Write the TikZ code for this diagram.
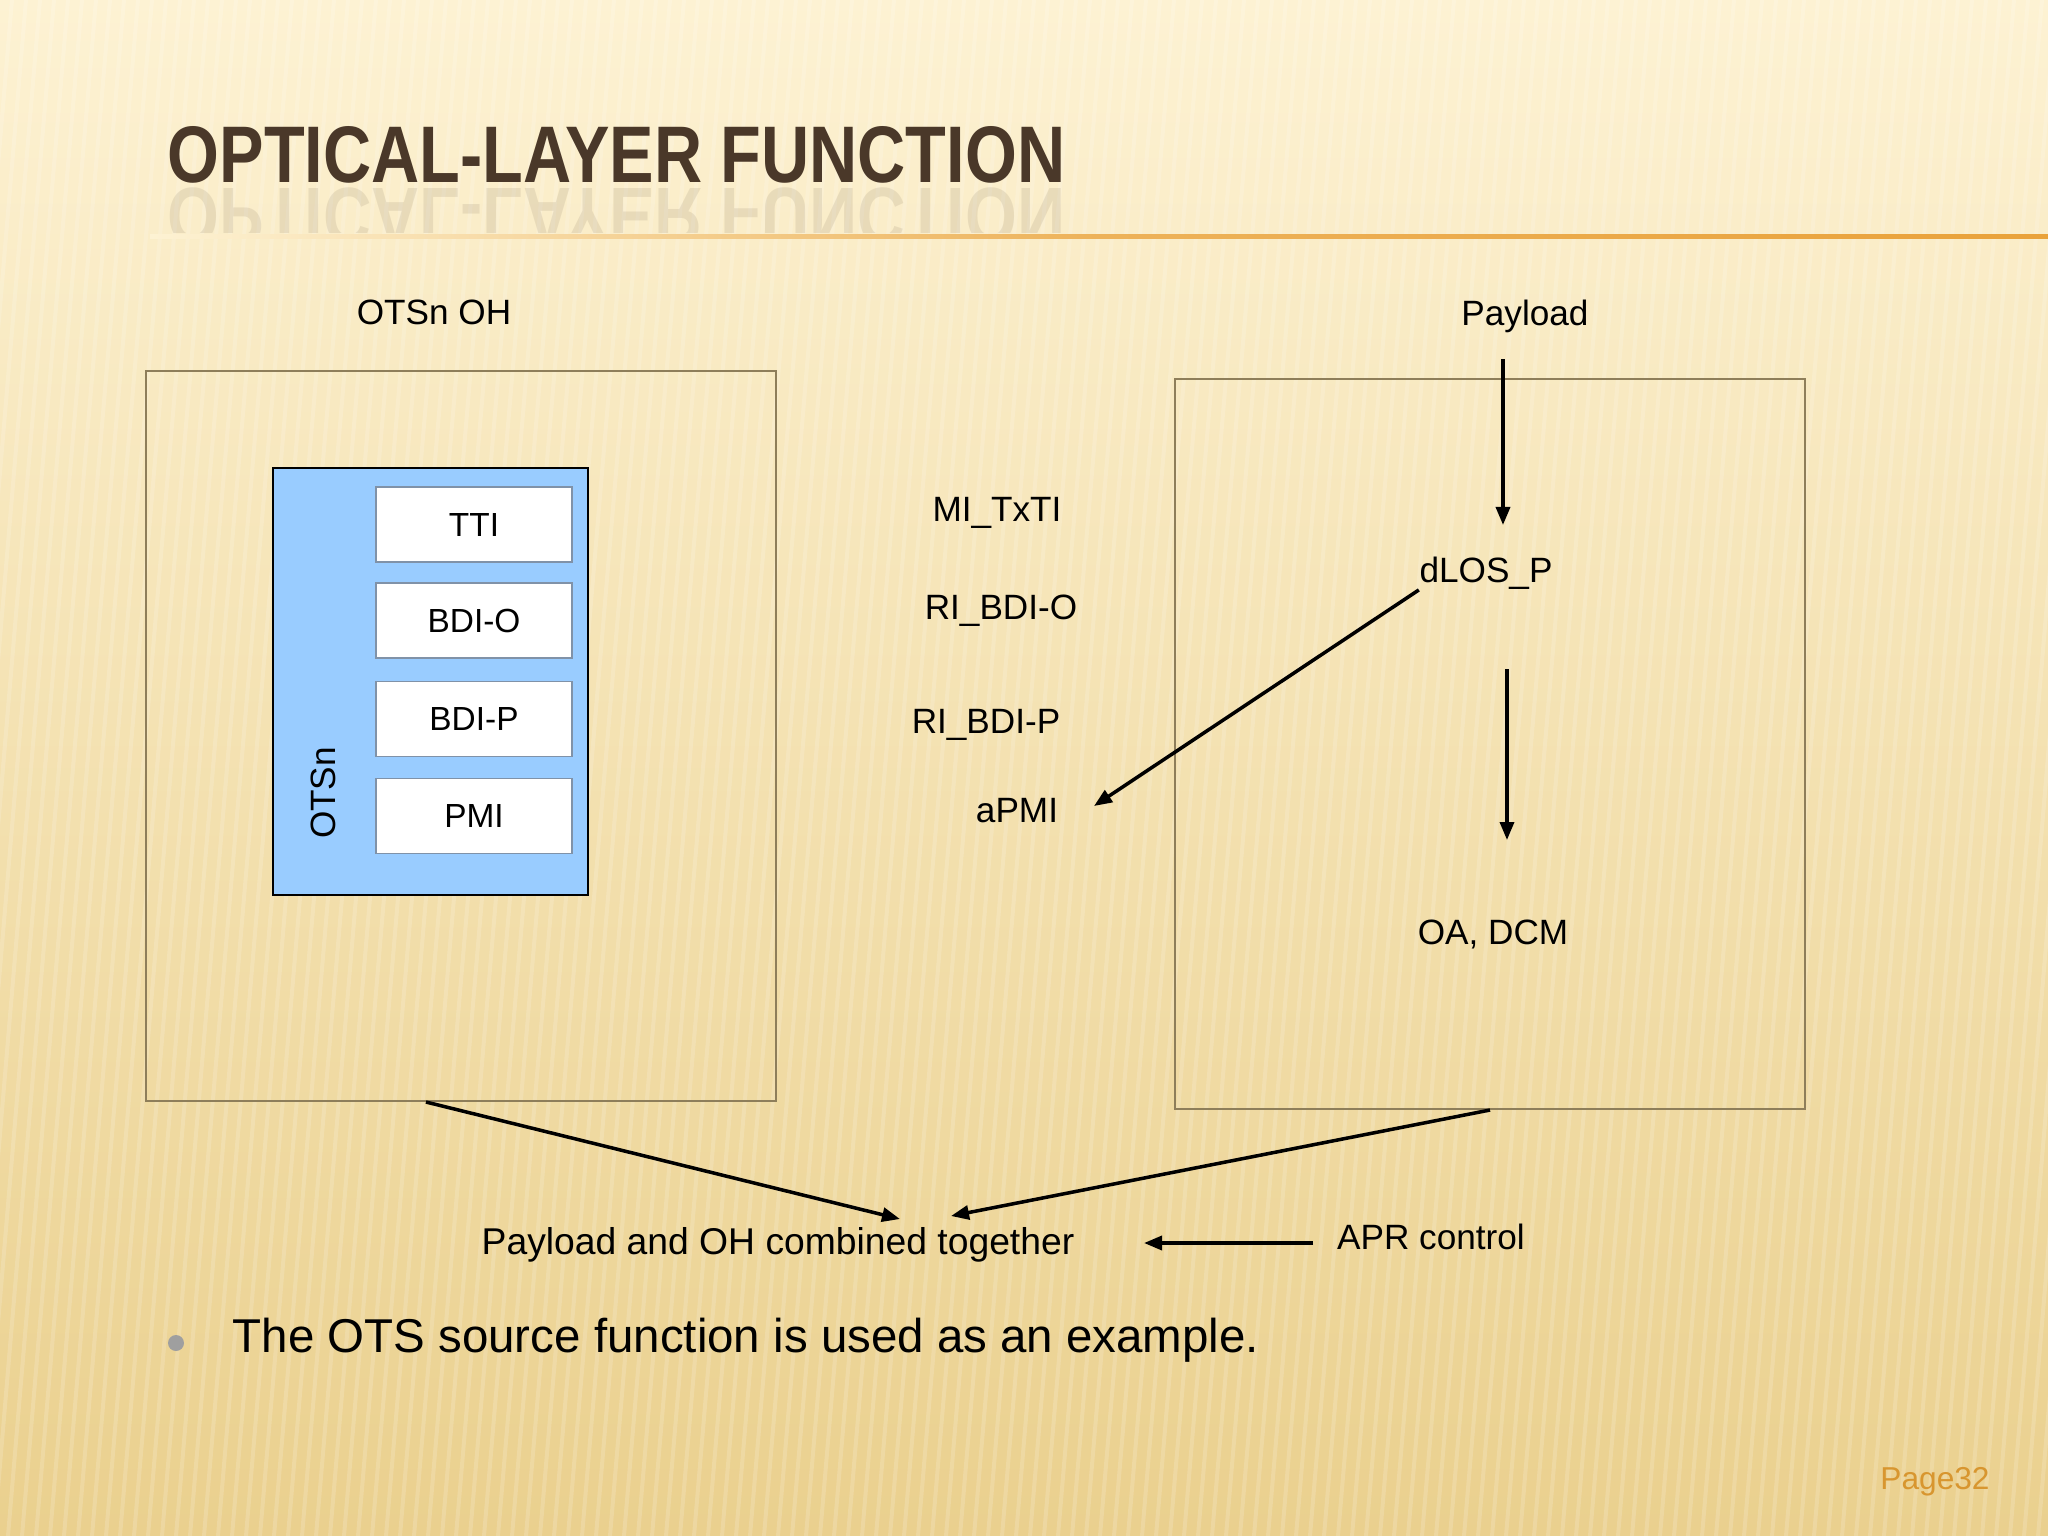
\documentclass[tikz,border=0pt]{standalone}
\usepackage{fontspec}
\setmainfont{Liberation Sans}
\usepackage{graphicx}
\usetikzlibrary{arrows.meta}

\definecolor{titlebrown}{HTML}{4A3829}
\definecolor{rulecol}{HTML}{E9A23B}
\definecolor{boxline}{HTML}{8E7E5A}
\definecolor{fieldline}{HTML}{8092A8}
\definecolor{otsblue}{HTML}{99CCFF}
\definecolor{pagenum}{HTML}{D8962F}
\definecolor{bgtop}{HTML}{FDF2D3}
\definecolor{bgbot}{HTML}{EAD08E}

\tikzset{
  lbl/.style={font=\fontsize{10}{12}\selectfont, inner sep=0pt},
  field/.style={draw=fieldline, line width=0.5pt, fill=white, minimum width=1.96cm,
    minimum height=0.75cm, inner sep=0pt, font=\fontsize{9.5}{11}\selectfont},
  frame/.style={draw=boxline, line width=0.45pt, minimum width=6.3cm, minimum height=7.3cm},
  flow/.style={line width=1pt, -{Triangle[length=0.18cm,width=0.14cm]}}
}

\begin{document}
\begin{tikzpicture}[x=0.01cm,y=-0.01cm]
% slide background
\useasboundingbox (0,0) rectangle (2048,1536);
\shade[top color=bgtop, bottom color=bgbot] (0,0) rectangle (2048,1536);
\begin{scope}
\clip (0,0) rectangle (2048,1536);
\foreach \x in {-300,-286,...,2100}
  \draw[white, opacity=0.16, line width=0.04cm] (\x,1536) -- (\x+130,0);
\end{scope}

% title and rule
\node[anchor=base west, inner sep=0pt, text=titlebrown] (title) at (167,182)
  {\resizebox{8.97cm}{0.56cm}{\bfseries OPTICAL-LAYER FUNCTION}};
\begin{scope}
\clip (150,186) rectangle (1080,232);
\node[anchor=base west, inner sep=0pt, text=titlebrown, opacity=0.1, yscale=-1] at (167,188)
  {\resizebox{8.97cm}{0.56cm}{\bfseries OPTICAL-LAYER FUNCTION}};
\end{scope}
\shade[left color=bgtop, right color=rulecol, middle color=rulecol!80!bgtop] (150,234) rectangle (2048,238);

% overhead side
\node[lbl] (ohlabel) at (434,312) {OTSn OH};
\node[frame] (ohbox) at (461,736) {};
\node[draw=black, line width=0.7pt, fill=otsblue, minimum width=3.15cm, minimum height=4.27cm] (otsn) at (430.5,681.5) {};
\node[lbl, rotate=90] (otsnlabel) at (323,793) {OTSn};
\node[field] (tti) at (474,524.5) {TTI};
\node[field] (bdio) at (474,620.5) {BDI-O};
\node[field] (bdip) at (474,719) {BDI-P};
\node[field] (pmi) at (474,816) {PMI};

% management signals
\node[lbl] (mitxti) at (997,513) {MI\_TxTI};
\node[lbl] (ribdio) at (1001,611) {RI\_BDI-O};
\node[lbl] (ribdip) at (986,725) {RI\_BDI-P};
\node[lbl] (apmi) at (1017,811) {aPMI};

% payload side
\node[lbl] (payload) at (1525,316) {Payload};
\node[frame] (plbox) at (1490,744) {};
\node[lbl] (dlos) at (1486,573) {dLOS\_P};
\node[lbl] (oadcm) at (1493,934) {OA, DCM};
\coordinate (pin) at (1503,359);
\coordinate (pout) at (1503,525);
\coordinate (din) at (1507,669);
\coordinate (dout) at (1507,840);
\coordinate (apmitip) at (1094,806);
\draw[flow] (pin) -- (pout);
\draw[flow] (din) -- (dout);
\draw[flow] (dlos.south west) -- (apmitip);

% combining
\node[lbl, font=\fontsize{10.6}{12}\selectfont] (combined) at (778,1245) {Payload and OH combined together};
\node[lbl] (apr) at (1431,1237) {APR control};
\coordinate (lefttip) at (900,1219);
\coordinate (righttip) at (951,1216);
\coordinate (aprstart) at (1313,1243);
\coordinate (aprtip) at (1144,1243);
\draw[flow] ([xshift=-0.35cm]ohbox.south) -- (lefttip);
\draw[flow] (plbox.south) -- (righttip);
\draw[flow] (aprstart) -- (aprtip);

% bullet text and page number
\fill[gray!75] (176,1343) circle (8);
\node[anchor=west, inner sep=0pt, font=\fontsize{13.5}{16}\selectfont] (note) at (232,1340)
  {The OTS source function is used as an example.};
\node[inner sep=0pt, text=pagenum, font=\fontsize{9}{11}\selectfont] (page) at (1935,1482) {Page32};
\end{tikzpicture}
\end{document}
